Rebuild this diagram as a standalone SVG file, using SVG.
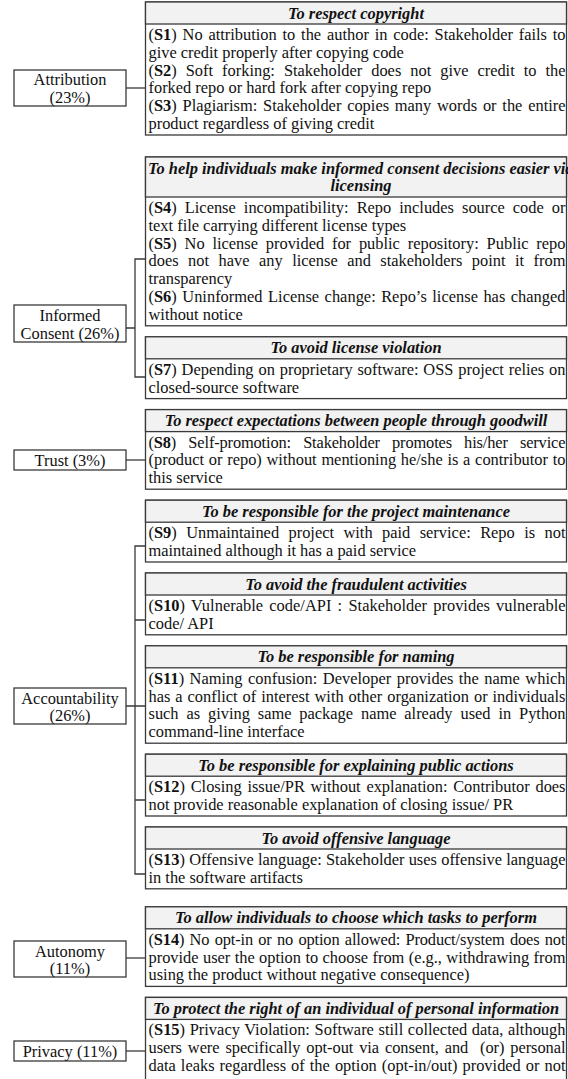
<svg xmlns="http://www.w3.org/2000/svg" width="568" height="1079" viewBox="0 0 568 1079">
  <style>
    .box { fill: #ffffff; stroke: #3a3a3a; stroke-width: 1.3; }
    .hd { fill: #f2f2f2; stroke: #3a3a3a; stroke-width: 1.3; }
    .lab { fill: #ffffff; stroke: #3a3a3a; stroke-width: 1.3; }
    .ln { fill: none; stroke: #3a3a3a; stroke-width: 1.3; }
    text { font-family: "Liberation Serif", "Times New Roman", serif; font-size: 16.4px; fill: #111111; }
    .h { font-weight: bold; font-style: italic; text-anchor: middle; }
    .c { text-anchor: middle; }
    .b { font-weight: bold; }
  </style>
  <rect width="568" height="1079" fill="#ffffff"/>

  <!-- connectors -->
  <g id="connectors">
    <path class="ln" d="M126 88 H145.5"/>
    <path class="ln" d="M145.5 259 H135 V377 H145.5 M126 328 H135"/>
    <path class="ln" d="M126 460 H145.5"/>
    <path class="ln" d="M145.5 546 H135 V874 H145.5 M135 620 H145.5 M126 706 H145.5 M135 800 H145.5"/>
    <path class="ln" d="M126 958 H145.5"/>
    <path class="ln" d="M126 1051 H145.5"/>
  </g>

  <!-- value categories -->
  <g id="attribution">
    <rect class="lab" x="14" y="70" width="112" height="36"/>
    <text class="c" x="70" y="85">Attribution</text>
    <text class="c" x="70" y="102.5">(23%)</text>
  </g>
  <g id="informed-consent">
    <rect class="lab" x="14" y="305" width="112" height="37"/>
    <text class="c" x="70" y="321">Informed</text>
    <text class="c" x="70" y="338.5">Consent (26%)</text>
  </g>
  <g id="trust">
    <rect class="lab" x="14" y="450" width="112" height="20"/>
    <text class="c" x="70" y="465.5">Trust (3%)</text>
  </g>
  <g id="accountability">
    <rect class="lab" x="14" y="688" width="112" height="36"/>
    <text class="c" x="70" y="703.5">Accountability</text>
    <text class="c" x="70" y="721">(26%)</text>
  </g>
  <g id="autonomy">
    <rect class="lab" x="14" y="941" width="112" height="36"/>
    <text class="c" x="70" y="956.5">Autonomy</text>
    <text class="c" x="70" y="974">(11%)</text>
  </g>
  <g id="privacy">
    <rect class="lab" x="14" y="1041" width="112" height="20"/>
    <text class="c" x="70" y="1056.5">Privacy (11%)</text>
  </g>

  <!-- smell descriptions -->
  <g id="copyright">
    <rect class="box" x="145.5" y="2" width="421" height="133"/>
    <rect class="hd" x="145.5" y="2" width="421" height="22"/>
    <text class="h" x="356" y="18.5">To respect copyright</text>
    <text x="148.5" y="40" textLength="417" lengthAdjust="spacing" style="word-spacing:1.71px">(<tspan class="b">S1</tspan>) No attribution to the author in code: Stakeholder fails to</text>
    <text x="148.5" y="57.8">give credit properly after copying code</text>
    <text x="148.5" y="75.6" textLength="417" lengthAdjust="spacing" style="word-spacing:4.88px">(<tspan class="b">S2</tspan>) Soft forking: Stakeholder does not give credit to the</text>
    <text x="148.5" y="93.4">forked repo or hard fork after copying repo</text>
    <text x="148.5" y="111.2" textLength="417" lengthAdjust="spacing" style="word-spacing:1.68px">(<tspan class="b">S3</tspan>) Plagiarism: Stakeholder copies many words or the entire</text>
    <text x="148.5" y="129">product regardless of giving credit</text>
  </g>

  <g id="licensing">
    <rect class="box" x="145.5" y="157" width="421" height="168.8"/>
    <rect class="hd" x="145.5" y="157" width="421" height="40"/>
    <text class="b" x="148" y="173.5" style="font-style:italic">To help individuals make informed consent decisions easier via</text>
    <text class="h" x="361" y="191">licensing</text>
    <text x="148.5" y="213" textLength="417" lengthAdjust="spacing" style="word-spacing:3.93px">(<tspan class="b">S4</tspan>) License incompatibility: Repo includes source code or</text>
    <text x="148.5" y="230.8">text file carrying different license types</text>
    <text x="148.5" y="248.6" textLength="417" lengthAdjust="spacing" style="word-spacing:3.73px">(<tspan class="b">S5</tspan>) No license provided for public repository: Public repo</text>
    <text x="148.5" y="266.4" textLength="417" lengthAdjust="spacing" style="word-spacing:5.39px">does not have any license and stakeholders point it from</text>
    <text x="148.5" y="284.2">transparency</text>
    <text x="148.5" y="302" textLength="417" lengthAdjust="spacing" style="word-spacing:1.34px">(<tspan class="b">S6</tspan>) Uninformed License change: Repo’s license has changed</text>
    <text x="148.5" y="319.8">without notice</text>
  </g>

  <g id="license-violation">
    <rect class="box" x="145.5" y="336.8" width="421" height="61.8"/>
    <rect class="hd" x="145.5" y="336.8" width="421" height="22"/>
    <text class="h" x="356" y="353.3">To avoid license violation</text>
    <text x="148.5" y="374.8" textLength="417" lengthAdjust="spacing" style="word-spacing:0.77px">(<tspan class="b">S7</tspan>) Depending on proprietary software: OSS project relies on</text>
    <text x="148.5" y="392.6">closed-source software</text>
  </g>

  <g id="goodwill">
    <rect class="box" x="145.5" y="409.6" width="421" height="79.6"/>
    <rect class="hd" x="145.5" y="409.6" width="421" height="22"/>
    <text class="h" x="356" y="426.1">To respect expectations between people through goodwill</text>
    <text x="148.5" y="447.6" textLength="417" lengthAdjust="spacing" style="word-spacing:8.24px">(<tspan class="b">S8</tspan>) Self-promotion: Stakeholder promotes his/her service</text>
    <text x="148.5" y="465.4" textLength="417" lengthAdjust="spacing" style="word-spacing:0.63px">(product or repo) without mentioning he/she is a contributor to</text>
    <text x="148.5" y="483.2">this service</text>
  </g>

  <g id="maintenance">
    <rect class="box" x="145.5" y="500.2" width="421" height="61.8"/>
    <rect class="hd" x="145.5" y="500.2" width="421" height="22"/>
    <text class="h" x="356" y="516.7">To be responsible for the project maintenance</text>
    <text x="148.5" y="538.2" textLength="417" lengthAdjust="spacing" style="word-spacing:5.32px">(<tspan class="b">S9</tspan>) Unmaintained project with paid service: Repo is not</text>
    <text x="148.5" y="556">maintained although it has a paid service</text>
  </g>

  <g id="fraud">
    <rect class="box" x="145.5" y="573" width="421" height="61.8"/>
    <rect class="hd" x="145.5" y="573" width="421" height="22"/>
    <text class="h" x="356" y="589.5">To avoid the fraudulent activities</text>
    <text x="148.5" y="611" textLength="417" lengthAdjust="spacing" style="word-spacing:2.08px">(<tspan class="b">S10</tspan>) Vulnerable code/API : Stakeholder provides vulnerable</text>
    <text x="148.5" y="628.8">code/ API</text>
  </g>

  <g id="naming">
    <rect class="box" x="145.5" y="645.8" width="421" height="97.4"/>
    <rect class="hd" x="145.5" y="645.8" width="421" height="22"/>
    <text class="h" x="356" y="662.3">To be responsible for naming</text>
    <text x="148.5" y="683.8" textLength="417" lengthAdjust="spacing" style="word-spacing:1.33px">(<tspan class="b">S11</tspan>) Naming confusion: Developer provides the name which</text>
    <text x="148.5" y="701.6" textLength="417" lengthAdjust="spacing" style="word-spacing:0.83px">has a conflict of interest with other organization or individuals</text>
    <text x="148.5" y="719.4" textLength="417" lengthAdjust="spacing" style="word-spacing:3.77px">such as giving same package name already used in Python</text>
    <text x="148.5" y="737.2">command-line interface</text>
  </g>

  <g id="public-actions">
    <rect class="box" x="145.5" y="754.2" width="421" height="61.8"/>
    <rect class="hd" x="145.5" y="754.2" width="421" height="22"/>
    <text class="h" x="356" y="770.7">To be responsible for explaining public actions</text>
    <text x="148.5" y="792.2" textLength="417" lengthAdjust="spacing" style="word-spacing:1.62px">(<tspan class="b">S12</tspan>) Closing issue/PR without explanation: Contributor does</text>
    <text x="148.5" y="810">not provide reasonable explanation of closing issue/ PR</text>
  </g>

  <g id="offensive-language">
    <rect class="box" x="145.5" y="827" width="421" height="61.8"/>
    <rect class="hd" x="145.5" y="827" width="421" height="22"/>
    <text class="h" x="356" y="843.5">To avoid offensive language</text>
    <text x="148.5" y="865" textLength="417" lengthAdjust="spacing" style="word-spacing:0.12px">(<tspan class="b">S13</tspan>) Offensive language: Stakeholder uses offensive language</text>
    <text x="148.5" y="882.8">in the software artifacts</text>
  </g>

  <g id="choice">
    <rect class="box" x="145.5" y="906.8" width="421" height="79.6"/>
    <rect class="hd" x="145.5" y="906.8" width="421" height="22"/>
    <text class="h" x="356" y="923.3">To allow individuals to choose which tasks to perform</text>
    <text x="148.5" y="944.8" textLength="417" lengthAdjust="spacing" style="word-spacing:1.33px">(<tspan class="b">S14</tspan>) No opt-in or no option allowed: Product/system does not</text>
    <text x="148.5" y="962.6" textLength="417" lengthAdjust="spacing" style="word-spacing:0.28px">provide user the option to choose from (e.g., withdrawing from</text>
    <text x="148.5" y="980.4">using the product without negative consequence)</text>
  </g>

  <g id="personal-information">
    <rect class="box" x="145.5" y="997.4" width="421" height="95"/>
    <rect class="hd" x="145.5" y="997.4" width="421" height="22"/>
    <text class="h" x="356" y="1013.9">To protect the right of an individual of personal information</text>
    <text x="148.5" y="1035.4" textLength="417" lengthAdjust="spacing" style="word-spacing:0.49px">(<tspan class="b">S15</tspan>) Privacy Violation: Software still collected data, although</text>
    <text x="148.5" y="1053.2" textLength="417" lengthAdjust="spacing" style="word-spacing:1.87px" xml:space="preserve">users were specifically opt-out via consent, and  (or) personal</text>
    <text x="148.5" y="1071" textLength="417" lengthAdjust="spacing" style="word-spacing:0.93px">data leaks regardless of the option (opt-in/out) provided or not</text>
  </g>
</svg>
